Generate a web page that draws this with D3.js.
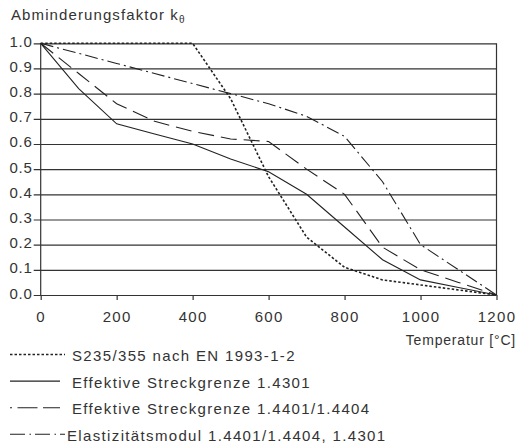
<!DOCTYPE html>
<html>
<head>
<meta charset="utf-8">
<script src="https://cdn.jsdelivr.net/npm/d3@7"></script>
<style>
  body { margin: 0; background: #fff; }
  svg { font-family: "Liberation Sans", Arial, sans-serif; }
  text { fill: #333; }
</style>
</head>
<body>
<svg width="519" height="445"></svg>
<script>
const temps = [0, 100, 200, 300, 400, 500, 600, 700, 800, 900, 1000, 1100, 1200];
const s235 = [1, 1, 1, 1, 1, 0.78, 0.47, 0.23, 0.11, 0.06, 0.04, 0.02, 0];
const eff4301 = [1, 0.82, 0.68, 0.64, 0.60, 0.54, 0.49, 0.40, 0.27, 0.14, 0.06, 0.03, 0];
const eff4401 = [1, 0.88, 0.76, 0.69, 0.65, 0.62, 0.61, 0.50, 0.40, 0.19, 0.10, 0.05, 0];
const eModul = [1, 0.96, 0.92, 0.88, 0.84, 0.80, 0.76, 0.71, 0.63, 0.45, 0.20, 0.10, 0];
const xTicks = [0, 200, 400, 600, 800, 1000, 1200];
const yTicks = [0, 0.1, 0.2, 0.3, 0.4, 0.5, 0.6, 0.7, 0.8, 0.9, 1.0];
const legendLabels = [
    'S235/355 nach EN 1993-1-2',
    'Effektive Streckgrenze 1.4301',
    'Effektive Streckgrenze 1.4401/1.4404',
    'Elastizitätsmodul 1.4401/1.4404, 1.4301'
];

const svg = d3.select('svg');
const width = +svg.attr('width');
const height = +svg.attr('height');

const margin = { top: 43.3, right: 22.5, bottom: 150, left: 40.7 };
const innerWidth = width - margin.left - margin.right;
const innerHeight = height - margin.top - margin.bottom;

const series = [
    { values: s235, dash: '2.5,2', width: 1.6 },
    { values: eff4301, dash: null, width: 1.1 },
    { values: eff4401, dash: '16,7', width: 1.1 },
    { values: eModul, dash: '13,4,2,4', width: 1.1 }
];

const xScale = d3.scaleLinear().domain([0, 1200]).range([0, innerWidth]);
const yScale = d3.scaleLinear().domain([0, 1]).range([innerHeight, 0]);

const g = svg.append('g')
    .attr('transform', `translate(${margin.left}, ${margin.top})`);

// gridlines + y labels
const yAxis = d3.axisLeft(yScale)
    .tickValues(yTicks)
    .tickSize(-innerWidth)
    .tickPadding(8)
    .tickFormat(d3.format('.1f'));
const yAxisG = g.append('g').call(yAxis);
yAxisG.select('.domain').remove();
yAxisG.selectAll('.tick line')
    .attr('x1', -7)
    .attr('stroke', '#333')
    .attr('stroke-width', 1.2);
yAxisG.selectAll('.tick text')
    .attr('fill', '#333')
    .attr('dy', '0.2em')
    .style('font-size', '15px')
    .style('letter-spacing', '0.8px');

// x ticks + labels
const xAxis = d3.axisBottom(xScale)
    .tickValues(xTicks)
    .tickSize(5)
    .tickPadding(11)
    .tickFormat(d3.format('d'));
const xAxisG = g.append('g')
    .attr('transform', `translate(0, ${innerHeight})`)
    .call(xAxis);
xAxisG.select('.domain').remove();
xAxisG.selectAll('.tick line').attr('stroke', '#333').attr('stroke-width', 1.2);
xAxisG.selectAll('.tick text')
    .attr('fill', '#333')
    .style('font-size', '15px')
    .style('letter-spacing', '1.3px');

// frame lines left and right
g.append('line')
    .attr('x1', 0).attr('x2', 0)
    .attr('y1', 0).attr('y2', innerHeight)
    .attr('stroke', '#333').attr('stroke-width', 1.2);
g.append('line')
    .attr('x1', innerWidth).attr('x2', innerWidth)
    .attr('y1', 0).attr('y2', innerHeight)
    .attr('stroke', '#333').attr('stroke-width', 1.2);

const lineGen = values => d3.line()
    .x((d, i) => xScale(temps[i]))
    .y(d => yScale(d))(values);

series.forEach(s => {
    g.append('path')
        .attr('d', lineGen(s.values))
        .attr('fill', 'none')
        .attr('stroke', '#222')
        .attr('stroke-width', s.width)
        .attr('stroke-dasharray', s.dash);
});

// title
const title = svg.append('text')
    .attr('x', 11)
    .attr('y', 20)
    .style('font-size', '15px')
    .style('letter-spacing', '1.1px');
title.append('tspan').text('Abminderungsfaktor k');
title.append('tspan')
    .attr('dy', 3)
    .style('font-size', '10px')
    .text('θ');

// axis label
svg.append('text')
    .attr('x', 516)
    .attr('y', 345)
    .attr('text-anchor', 'end')
    .style('font-size', '14px')
    .style('letter-spacing', '0.8px')
    .text('Temperatur [°C]');

// legend
const legendSpec = [
    { x2: 65, text: 72, dash: '2.5,2', offset: 0 },
    { x2: 60, text: 72, dash: null, offset: 0 },
    { x2: 60, text: 72, dash: '20,5.5', offset: 18 },
    { x2: 65, text: 67, dash: '15,4.5,1.5,4', offset: 0 }
];
const legendRows = svg.append('g').selectAll('g')
    .data(legendLabels)
    .enter().append('g')
    .attr('transform', (d, i) => `translate(0, ${361 + i * 26.6})`);

legendRows.append('line')
    .attr('x1', 10)
    .attr('x2', (d, i) => legendSpec[i].x2)
    .attr('y1', -6.5).attr('y2', -6.5)
    .attr('stroke', '#222')
    .attr('stroke-width', (d, i) => series[i].width)
    .attr('stroke-dasharray', (d, i) => legendSpec[i].dash)
    .attr('stroke-dashoffset', (d, i) => legendSpec[i].offset);

legendRows.append('text')
    .attr('x', (d, i) => legendSpec[i].text)
    .style('font-size', '15px')
    .style('letter-spacing', '1.35px')
    .text(d => d);
</script>
</body>
</html>
